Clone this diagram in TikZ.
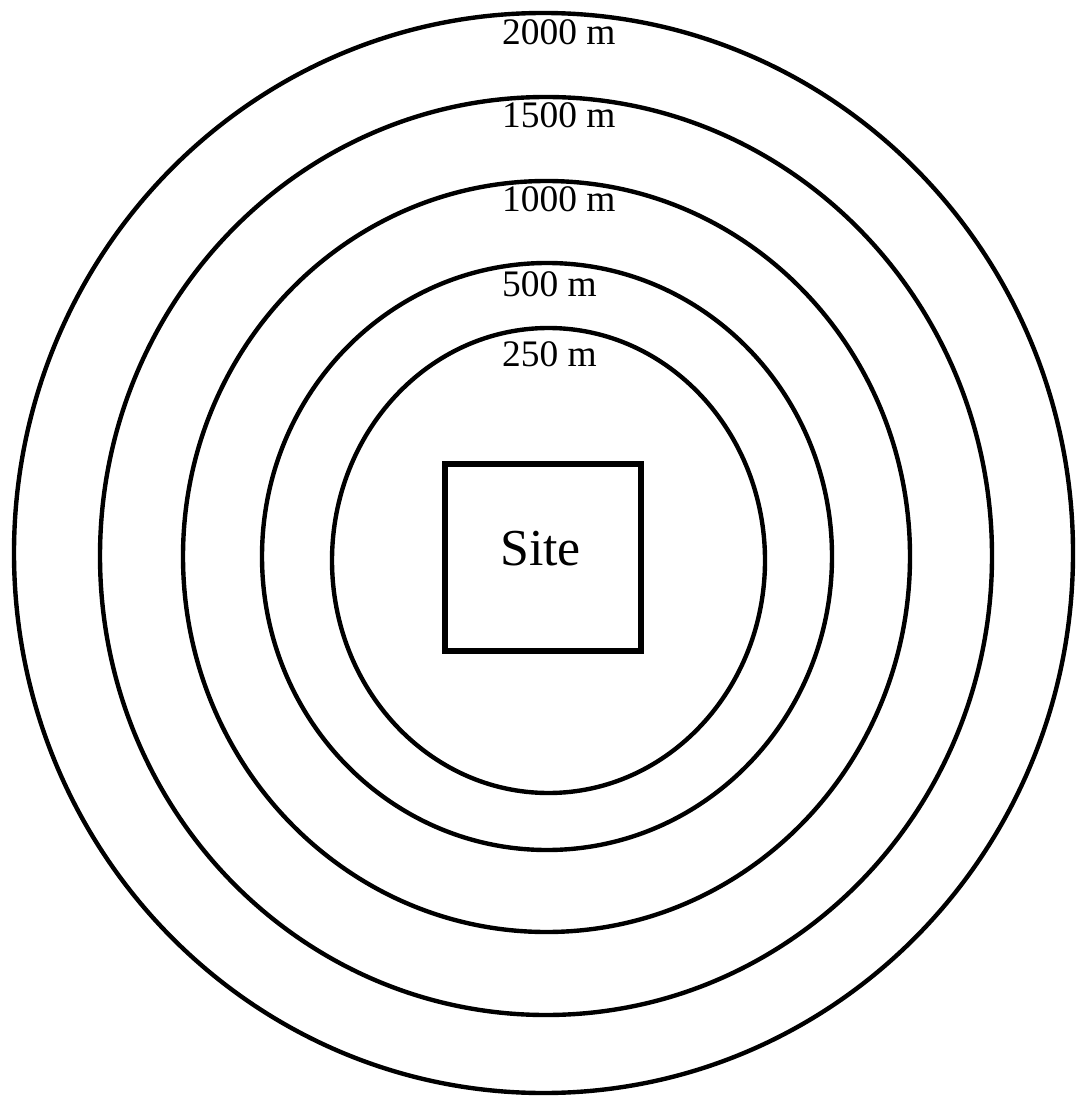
\documentclass[tikz,border=0pt]{standalone}
\usepackage{fontspec}
\setmainfont{Liberation Serif}
\begin{document}
\begin{tikzpicture}[x=0.02cm, y=-0.02cm, line width=2.5pt,
    ringlabel/.style={anchor=base west, inner sep=0pt, font=\fontsize{21.3}{25}\selectfont},
    sitebox/.style={draw, line width=2.9pt, minimum width=3.92cm, minimum height=3.74cm, inner sep=0pt}]
  \useasboundingbox (0,0) rectangle (1075,1097);
  % distance rings, outer to inner
  \foreach \cx/\cy/\rx/\ry in {543.5/553/529.5/540, 546/556/446/459, 546.5/556.5/363.5/375.5, 547/556.5/285/293.5, 548.5/560.5/216.5/232.5}
    \draw (\cx,\cy) ellipse [x radius=\rx, y radius=\ry];
  % ring labels
  \node[ringlabel] (l2000) at (500,45) {2000 m};
  \node[ringlabel] (l1500) at (500,128) {1500 m};
  \node[ringlabel] (l1000) at (500,212) {1000 m};
  \node[ringlabel] (l500) at (500,297) {500 m};
  \node[ringlabel] (l250) at (500,367) {250 m};
  % site
  \node[sitebox] (site) at (543,557.5) {};
  \node[anchor=base, font=\fontsize{29.5}{34}\selectfont] (sitetext) at (540.5,565) {Site};
\end{tikzpicture}
\end{document}
